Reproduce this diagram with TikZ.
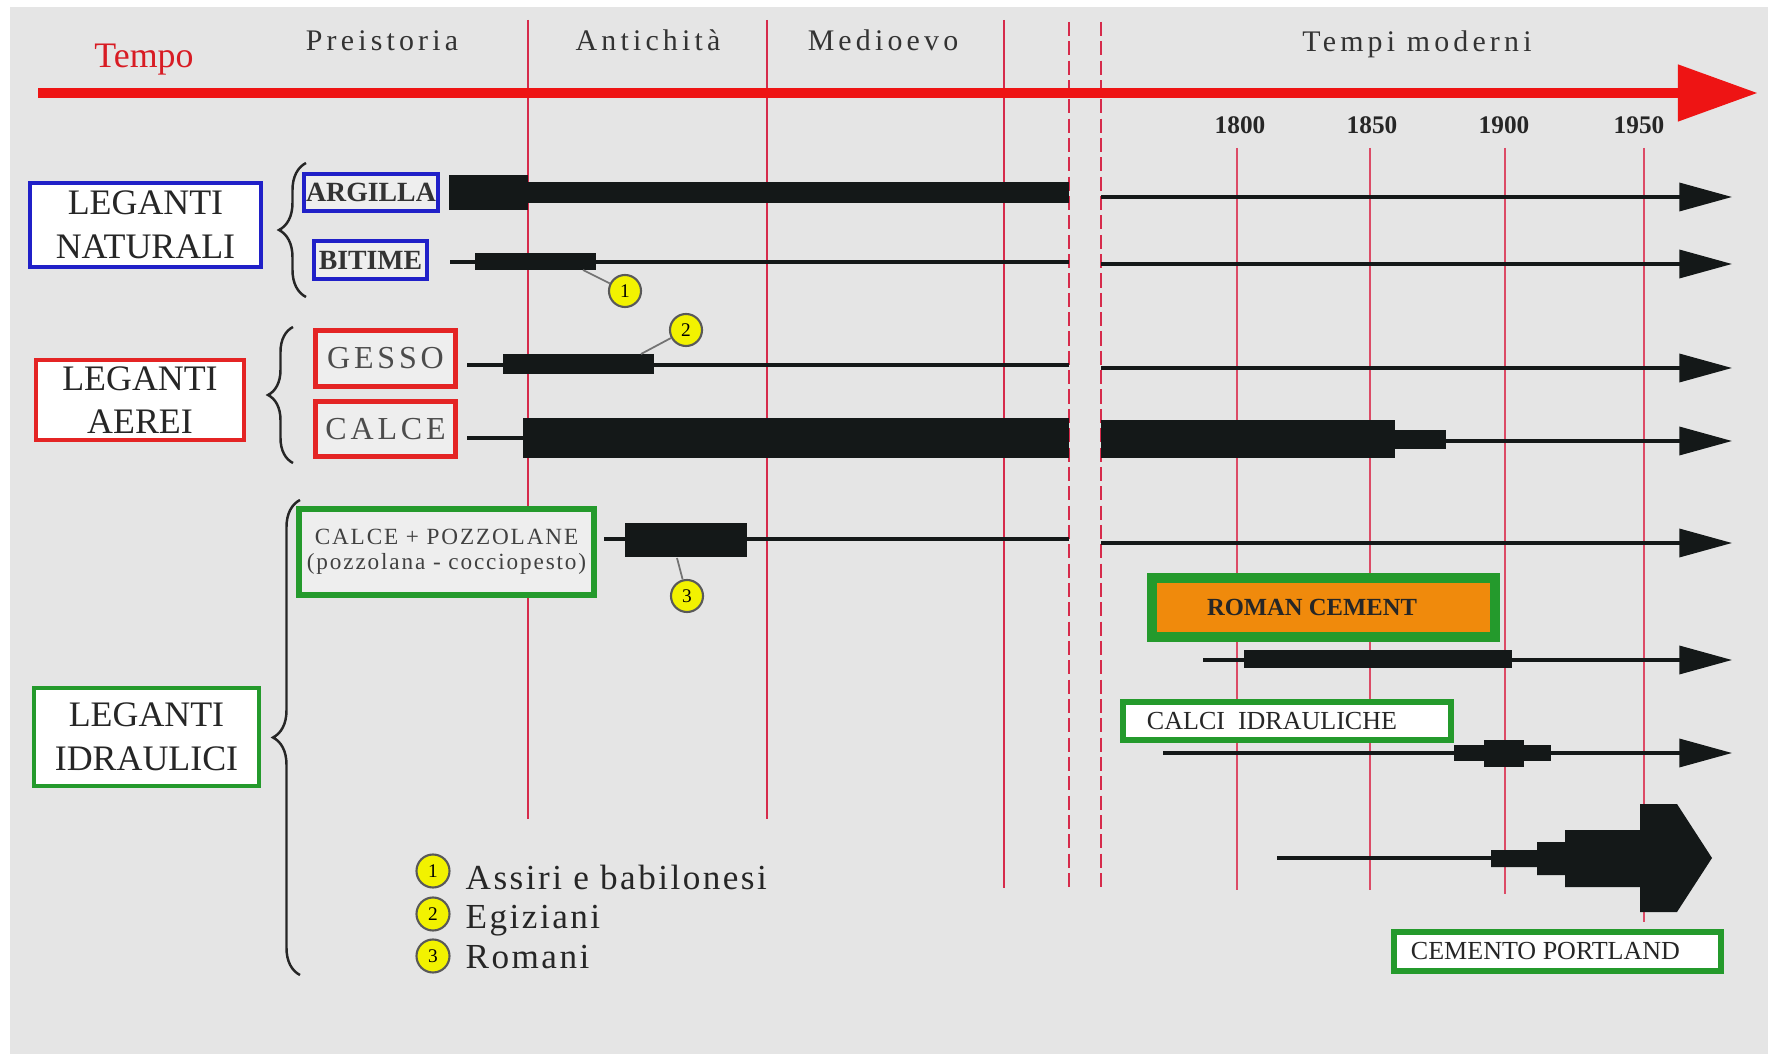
\documentclass[tikz,border=0pt]{standalone}
\usepackage{fontspec}
\setmainfont{Liberation Serif}
\newfontfamily\periodfont[LetterSpace=14]{Liberation Serif}
\newfontfamily\legendfont[LetterSpace=7]{Liberation Serif}
\newfontfamily\boxfont[LetterSpace=12]{Liberation Serif}
\newfontfamily\smallfont[LetterSpace=8]{Liberation Serif}
\usetikzlibrary{arrows.meta,decorations.pathreplacing}

\definecolor{bggray}{HTML}{E5E5E5}
\definecolor{boxfill}{HTML}{EEEEEE}
\definecolor{axisred}{HTML}{EE1414}
\definecolor{tempored}{HTML}{D81C24}
\definecolor{linered}{HTML}{D62B4B}
\definecolor{boxblue}{HTML}{2020C8}
\definecolor{boxred}{HTML}{E42424}
\definecolor{boxgreen}{HTML}{249A2C}
\definecolor{cementorange}{HTML}{F08A0C}
\definecolor{markyellow}{HTML}{F2F200}
\definecolor{barblack}{HTML}{141818}

\begin{document}
\begin{tikzpicture}[x=0.01cm, y=-0.01cm,
  catbox/.style={rectangle, draw, fill=white, line width=1.1pt, inner sep=0pt, align=center,
    font=\fontsize{10.2}{12.4}\selectfont, text=black!85},
  subbox/.style={rectangle, draw, fill=boxfill, inner sep=0pt, text=black!80},
  modbox/.style={rectangle, draw=boxgreen, fill=white, line width=1.7pt, inner sep=0pt,
    font=\fontsize{7.4}{8}\selectfont, text=black!85},
  era/.style={linered, line width=0.6pt},
  erabreak/.style={linered, line width=0.6pt, dash pattern=on 4pt off 1.5pt},
  yearline/.style={linered!85, line width=0.45pt},
  bar/.style={fill=barblack},
  lane/.style={draw=barblack, line width=0.9pt},
  lanearrow/.style={lane, -{Triangle[length=15pt, width=8pt]}},
  numtag/.style={circle, draw=black!65, fill=markyellow, line width=0.6pt, inner sep=0pt,
    minimum size=0.32cm, font=\fontsize{5.5}{6}\selectfont},
  leader/.style={draw=black!55, line width=0.5pt},
  curly/.style={decorate, decoration={brace, amplitude=#1}, line width=0.7pt, black!85},
  period/.style={anchor=base, inner sep=0pt, text=black!80, font=\periodfont\fontsize{8.5}{10}\selectfont},
  yearlabel/.style={anchor=base, inner sep=0pt, text=black!85, font=\fontsize{7.2}{8}\selectfont\bfseries},
  legend/.style={anchor=base west, inner sep=0pt, text=black!85, font=\legendfont\fontsize{10}{12}\selectfont},
]
\useasboundingbox (0,0) rectangle (1778,1058);

% === BACKGROUND ===
\fill[white] (0,0) rectangle (1778,1058);
\fill[bggray] (10,7) rectangle (1768,1054);

% === ERAS AND YEARS ===
\foreach \xx/\yb in {528/819, 767/819, 1004/888}
  \draw[era] (\xx,20) -- (\xx,\yb);
\foreach \xx in {1069, 1101}
  \draw[erabreak] (\xx,22) -- (\xx,888);

\foreach \yr/\xx/\xl/\yb in {1800/1237/1240/890, 1850/1370/1372/890, 1900/1505/1504/894, 1950/1644/1639/922} {
  \node[yearlabel] (y\yr) at (\xl,134) {\yr};
  \draw[yearline] (\xx,148) -- (\xx,\yb);
}

\node[period] (preist) at (382,51) {Preistoria};
\node[period] (antich) at (648,51) {Antichità};
\node[period] (medio) at (883,51) {Medioevo};
\node[period] (moderni) at (1417,52) {Tempi moderni};

% time axis
\coordinate (t0) at (38,93);
\coordinate (t1) at (1758,93);
\draw[axisred, line width=3.1pt, -{Triangle[length=22.8pt, width=15.4pt]}] (t0) -- (t1);
\node[anchor=base, inner sep=0pt, text=tempored, font=\fontsize{10.2}{12}\selectfont] (tempo) at (144,68) {Tempo};

% === LANES ===
% argilla
\fill[bar] (449,175) rectangle (528,210);
\fill[bar] (528,182) rectangle (1069,203);
\draw[lanearrow] (1101,197) -- (1732,197);
% bitime
\draw[lane] (450,262) -- (1069,262);
\fill[bar] (475,253) rectangle (596,270);
\draw[lanearrow] (1101,264) -- (1732,264);
% gesso
\draw[lane] (467,365) -- (1069,365);
\fill[bar] (503,354) rectangle (654,374);
\draw[lanearrow] (1101,368) -- (1732,368);
% calce
\draw[lane] (467,438) -- (523,438);
\fill[bar] (523,418) rectangle (1069,458);
\fill[bar] (1101,420) rectangle (1395,458);
\fill[bar] (1395,430) rectangle (1446,449);
\draw[lanearrow] (1440,441) -- (1732,441);
% calce + pozzolane
\draw[lane] (604,539) -- (1069,539);
\fill[bar] (625,523) rectangle (747,557);
\draw[lanearrow] (1101,543) -- (1732,543);
% roman cement
\draw[lanearrow] (1203,660) -- (1732,660);
\fill[bar] (1244,650) rectangle (1512,668);
% calci idrauliche
\draw[lanearrow] (1163,753) -- (1732,753);
\fill[bar] (1454,745) rectangle (1551,761);
\fill[bar] (1484,740) rectangle (1524,767);
% cemento portland
\draw[lane] (1277,858) -- (1495,858);
\fill[bar] (1491,850) -- (1537,850) -- (1537,842) -- (1565,842) -- (1565,830) -- (1640,830)
  -- (1640,804) -- (1677,804) -- (1712,858) -- (1677,912) -- (1640,912) -- (1640,887)
  -- (1565,887) -- (1565,875) -- (1537,875) -- (1537,867) -- (1491,867) -- cycle;

% === CATEGORIES ===
\node[catbox, draw=boxblue, minimum width=2.31cm, minimum height=0.84cm] (naturali) at (145.5,225) {LEGANTI\\NATURALI};
\node[catbox, draw=boxred, minimum width=2.08cm, minimum height=0.80cm] (aerei) at (140,400) {LEGANTI\\AEREI};
\node[catbox, draw=boxgreen, minimum width=2.25cm, minimum height=0.98cm] (idraulici) at (146.5,737) {LEGANTI\\IDRAULICI};

\draw[curly=0.27cm] (306,297) -- (306,163);
\draw[curly=0.25cm] (293,463) -- (293,327);
\draw[curly=0.27cm] (300,975) -- (300,500);

\node[subbox, draw=boxblue, line width=1pt, minimum width=1.34cm, minimum height=0.37cm,
  font=\fontsize{7.9}{9}\selectfont\bfseries] (argilla) at (371,192.5) {ARGILLA};
\node[subbox, draw=boxblue, line width=1pt, minimum width=1.13cm, minimum height=0.38cm,
  font=\fontsize{7.9}{9}\selectfont\bfseries] (bitime) at (370.5,260) {BITIME};
\node[subbox, draw=boxred, line width=1.4pt, minimum width=1.40cm, minimum height=0.56cm,
  text=black!70, font=\boxfont\fontsize{9.1}{10}\selectfont] (gesso) at (385.5,358.5) {GESSO};
\node[subbox, draw=boxred, line width=1.4pt, minimum width=1.40cm, minimum height=0.55cm,
  text=black!70, font=\boxfont\fontsize{9.1}{10}\selectfont] (calce) at (385.5,429) {CALCE};
\node[subbox, draw=boxgreen, line width=1.7pt, minimum width=2.95cm, minimum height=0.86cm, align=center,
  text=black!75, font=\smallfont\fontsize{6.6}{7}\selectfont] (pozzolane) at (446.5,552) {CALCE + POZZOLANE\\(pozzolana - cocciopesto)};

\node[rectangle, draw=boxgreen, fill=cementorange, line width=2.85pt, minimum width=3.43cm, minimum height=0.59cm,
  inner sep=0pt, text=black!85, font=\fontsize{7}{8}\selectfont\bfseries] (roman) at (1323.5,607.5) {\hspace*{-0.23cm}ROMAN CEMENT};
\node[modbox, minimum width=3.28cm, minimum height=0.38cm] (calci) at (1287,721) {\hspace*{-0.3cm}CALCI\ \ IDRAULICHE};
\node[modbox, minimum width=3.27cm, minimum height=0.39cm] (portland) at (1557.5,951.5) {\hspace*{-0.24cm}CEMENTO PORTLAND};

% === PEOPLES ===
\node[numtag] (m1) at (625,291) {1};
\node[numtag] (m2) at (686,330) {2};
\node[numtag] (m3) at (687,596) {3};
\coordinate (e1) at (583,270);
\coordinate (e2) at (641,354);
\coordinate (e3) at (677,558);
\draw[leader] (e1) -- (m1);
\draw[leader] (e2) -- (m2);
\draw[leader] (e3) -- (m3);

\node[numtag, minimum size=0.33cm] (k1) at (433,871) {1};
\node[numtag, minimum size=0.33cm] (k2) at (433,914) {2};
\node[numtag, minimum size=0.33cm] (k3) at (433,956) {3};
\node[legend] (k1t) at (465,889) {Assiri e babilonesi};
\node[legend] (k2t) at (465,928) {Egiziani};
\node[legend] (k3t) at (465,968) {Romani};
\end{tikzpicture}
\end{document}
